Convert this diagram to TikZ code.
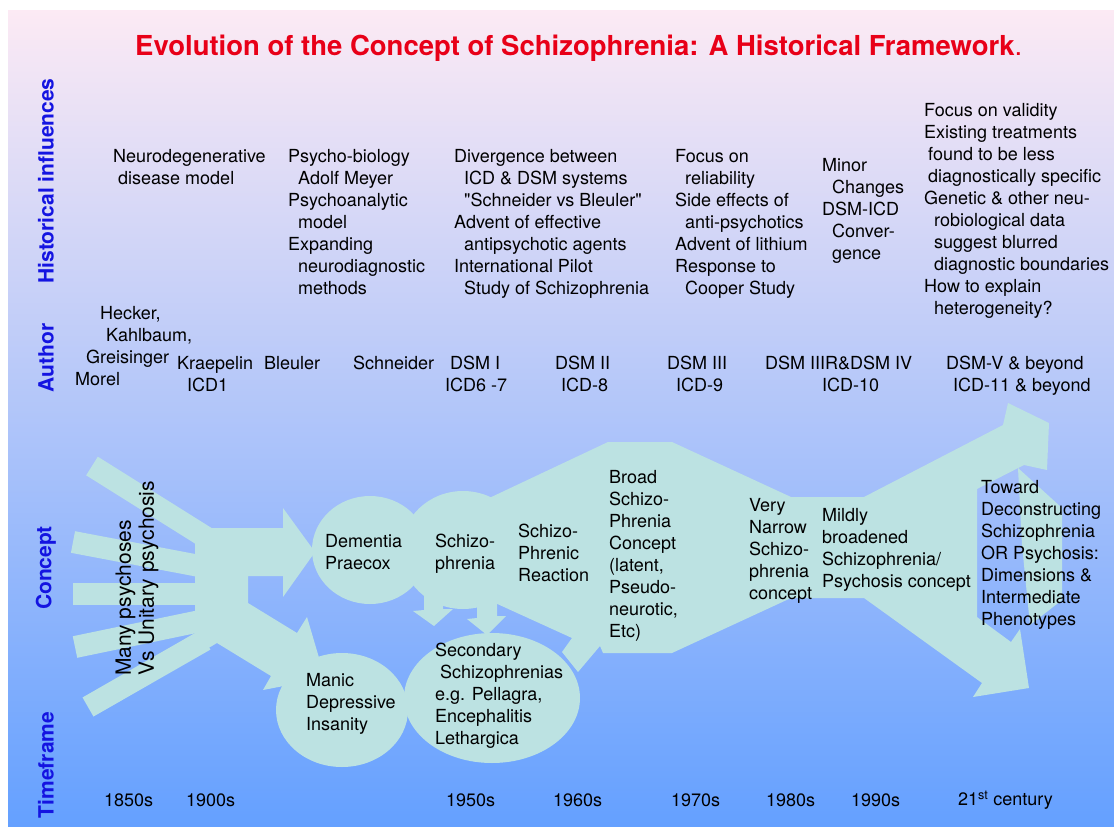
\documentclass[tikz,border=0pt]{standalone}
\usepackage{fontspec}
\setmainfont{TeX Gyre Heros}
\usetikzlibrary{positioning}
\definecolor{bgtop}{RGB}{252,234,244}
\definecolor{bgmid}{RGB}{170,205,246}
\definecolor{bgbot}{RGB}{100,160,255}
\definecolor{flow}{RGB}{188,226,226}
\definecolor{ttlred}{RGB}{232,0,24}
\definecolor{rowblue}{RGB}{20,20,225}
\tikzset{
  txt/.style={font=\fontsize{18}{22}\selectfont, align=left, anchor=north west, inner sep=0pt},
  yr/.style={font=\fontsize{18}{22}\selectfont, anchor=west, inner sep=0pt},
  rowlbl/.style={font=\fontsize{21}{24}\selectfont\bfseries, text=rowblue, rotate=90, inner sep=0pt},
  blob/.style={fill=flow, draw=none},
  arm/.style={draw=flow, line width=22pt},
}
\begin{document}
\begin{tikzpicture}[x=1pt,y=-1pt]
\useasboundingbox (0,0) rectangle (1114,827);
\fill[white] (0,0) rectangle (1114,827);
\shade[top color=bgtop, middle color=bgmid, bottom color=bgbot] (8,10) rectangle (1114,827);
% fan of early concepts
\foreach \xa/\ya/\xb/\yb in {92/466/218/545, 73/542/210/568, 73/594/215/594, 75/647/205/620, 88/707/205/640}
  \draw[arm] (\xa,\ya) -- (\xb,\yb);
\fill[blob] (195,528) -- (283,528) -- (283,508) -- (315,552) -- (283,597) -- (283,576) -- (248,576) -- (248,603) -- (297,633) -- (307,617) -- (325,678) -- (263,690) -- (271,676) -- (217,643) -- (195,656) -- cycle;
\fill[blob] (370,550) ellipse [x radius=58pt, y radius=54pt];
\fill[blob] (463,550) ellipse [x radius=62pt, y radius=59pt];
\fill[blob] (485,500) -- (608,442) -- (672,442) -- (791,497) -- (864,497) -- (1003,425) -- (1008,403) -- (1049,423) -- (1047,470) -- (1024,465) -- (977,489) -- (977,617) -- (1011,642) -- (1020,629) -- (1029,688) -- (973,697) -- (982,683) -- (864,598) -- (791,598) -- (672,653) -- (603,653) -- (600,646) -- (578,672) -- (562,652) -- (572,638) -- (493,602) -- (470,560) -- cycle;
\fill[blob] (1018,468) -- (1062,508) -- (1062,600) -- (1030,625) -- (1022,545) -- cycle;
\fill[blob] (424,590) -- (443,590) -- (443,609) -- (453,609) -- (434,626) -- (413,611) -- (424,610) -- cycle;
\fill[blob] (477,595) -- (497,595) -- (497,616) -- (506,616) -- (487,635) -- (467,619) -- (477,618) -- cycle;
\fill[blob] (342,710) ellipse [x radius=66pt, y radius=57pt];
\fill[blob] (492,698) ellipse [x radius=88pt, y radius=65pt];

\node[font=\fontsize{27.5}{30}\selectfont\bfseries, text=ttlred, anchor=west, inner sep=0pt] (title) at (135,48) {Evolution of the Concept of Schizophrenia: A Historical Framework\textmd{.}};
\foreach \n/\t/\y in {hist/Historical influences/181, auth/Author/358, conc/Concept/568, time/Timeframe/765}
  \node[rowlbl] (\n) at (46,\y) {\t};

% historical influences
\foreach \n/\t/\x/\y in {infl1/{Neurodegenerative\\\hspace*{5pt}disease model}/113/149,
  infl2/{Psycho-biology\\\hspace*{10pt}Adolf Meyer\\Psychoanalytic\\\hspace*{10pt}model\\Expanding\\\hspace*{10pt}neurodiagnostic\\\hspace*{10pt}methods}/288/149,
  infl3/{Divergence between\\\hspace*{10pt}ICD \& DSM systems\\\hspace*{10pt}\textquotedbl Schneider vs Bleuler\textquotedbl\\Advent of effective\\\hspace*{10pt}antipsychotic agents\\International Pilot\\\hspace*{10pt}Study of Schizophrenia}/454/149,
  infl4/{Focus on\\\hspace*{10pt}reliability\\Side effects of\\\hspace*{10pt}anti-psychotics\\Advent of lithium\\Response to\\\hspace*{10pt}Cooper Study}/675/149,
  infl5/{Minor\\\hspace*{10pt}Changes\\DSM-ICD\\\hspace*{10pt}Conver-\\\hspace*{10pt}gence}/822/158,
  infl6/{Focus on validity\\Existing treatments\\\hspace*{4pt}found to be less\\\hspace*{4pt}diagnostically specific\\Genetic \& other neu-\\\hspace*{10pt}robiological data\\\hspace*{10pt}suggest blurred\\\hspace*{10pt}diagnostic boundaries\\How to explain\\\hspace*{10pt}heterogeneity?}/924/103}
  \node[txt] (\n) at (\x,\y) {\t};

% authors
\node[txt] (early) at (75,306) {\hspace*{25pt}Hecker,\\\hspace*{31pt}Kahlbaum,\\\hspace*{11pt}Greisinger\\Morel};
\foreach \n/\t/\x in {kraep/{Kraepelin\\\hspace*{10pt}ICD1}/177, bleul/Bleuler/264, schn/Schneider/353,
  dsm1/{\hspace*{5pt}DSM I\\ICD6 -7}/445, dsm2/{DSM II\\\hspace*{6pt}ICD-8}/555, dsm3/{DSM III\\\hspace*{9pt}ICD-9}/667,
  dsm4/{DSM IIIR\&DSM IV\\\hspace*{57pt}ICD-10}/765, dsm5/{DSM-V \& beyond\\\hspace*{7pt}ICD-11 \& beyond}/946}
  \node[txt] (\n) at (\x,356) {\t};

% concepts
\node[txt, font=\fontsize{21}{23}\selectfont, rotate=90, anchor=west] (many) at (137,676) {Many psychoses\\Vs Unitary psychosis};
\node[txt] (dem) at (325,534) {Dementia\\Praecox};
\node[txt] (schz) at (435,534) {Schizo-\\phrenia};
\node[txt] (schr) at (518,524) {Schizo-\\Phrenic\\Reaction};
\node[txt] (broad) at (609,470) {Broad\\Schizo-\\Phrenia\\Concept\\(latent,\\Pseudo-\\neurotic,\\Etc)};
\node[txt] (narrow) at (749,498) {Very\\Narrow\\Schizo-\\phrenia\\concept};
\node[txt] (mild) at (822,508) {Mildly\\broadened\\Schizophrenia/\\Psychosis concept};
\node[txt] (toward) at (981,480) {Toward\\Deconstructing\\Schizophrenia\\OR Psychosis:\\Dimensions \&\\Intermediate\\Phenotypes};
\node[txt] (manic) at (306,673) {Manic\\Depressive\\Insanity};
\node[txt] (second) at (435,643) {Secondary\\\hspace*{5pt}Schizophrenias\\e.g. Pellagra,\\Encephalitis\\Lethargica};

% timeframe
\foreach \n/\t/\x in {y1850/1850s/104, y1900/1900s/186, y1950/1950s/446, y1960/1960s/553, y1970/1970s/671, y1980/1980s/766, y1990/1990s/851, y2000/{21\textsuperscript{st} century}/958}
  \node[yr] (\n) at (\x,800) {\t};
\end{tikzpicture}
\end{document}
